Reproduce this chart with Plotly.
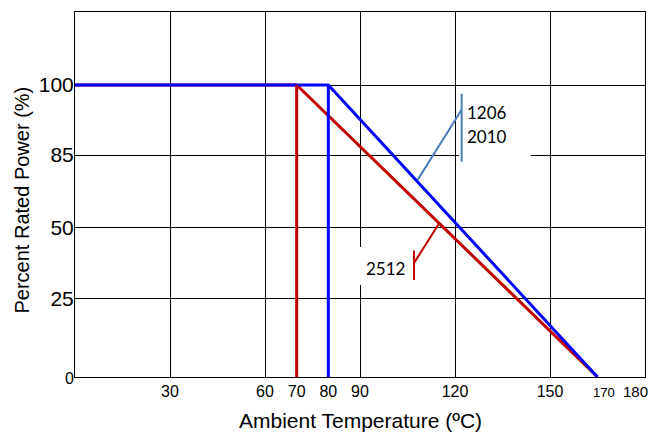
import plotly.graph_objects as go

# ---------------- data ----------------
x_tick_labels = ["30", "60", "70", "80", "90", "120", "150", "170", "180"]
y_tick_labels = ["0", "25", "50", "85", "100"]

red_curve_x = [0, 70, 165]
red_curve_y = [100, 100, 0]
red_drop_x = [70, 70]
red_drop_y = [0, 100]

blue_curve_x = [0, 80, 165]
blue_curve_y = [100, 100, 0]
blue_drop_x = [80, 80]
blue_drop_y = [0, 100]

blue_series_labels = ["1206", "2010"]
red_series_labels = ["2512"]

x_title = "Ambient Temperature (ºC)"
y_title = "Percent Rated Power (%)"

# ---------------- layout helpers ----------------
# the y axis is drawn with equally spaced (non-linear) levels
y_level_pos = [0, 1.07, 2.05, 3.04, 4.0]
y_map = {int(v): p for v, p in zip(y_tick_labels, y_level_pos)}
x_tick_pos = [30, 60, 70, 80, 90, 120, 150, 167, 177]
x_tick_size = [16, 16, 16, 16, 16, 16, 16, 13, 15]
x_tick_text = [f"<span style='font-size:{s}px'>{t}</span>" for t, s in zip(x_tick_labels, x_tick_size)]
y_tick_text = ["<span style='font-size:16px'>0</span>"] + y_tick_labels[1:]

RED = "#C00000"
BLUE = "#0000FF"
LEAD_BLUE = "#4A7EBB"

def ly(vals):
    return [y_map[v] for v in vals]

fig = go.Figure()
fig.add_trace(go.Scatter(x=red_drop_x, y=ly(red_drop_y), mode="lines", xaxis="x2",
                         line=dict(color=RED, width=3), hoverinfo="skip", showlegend=False))
fig.add_trace(go.Scatter(x=red_curve_x, y=ly(red_curve_y), mode="lines",
                         line=dict(color=RED, width=3), hoverinfo="skip", showlegend=False))
fig.add_trace(go.Scatter(x=blue_drop_x, y=ly(blue_drop_y), mode="lines",
                         line=dict(color=BLUE, width=3), hoverinfo="skip", showlegend=False))
fig.add_trace(go.Scatter(x=blue_curve_x, y=ly(blue_curve_y), mode="lines",
                         line=dict(color=BLUE, width=3), hoverinfo="skip", showlegend=False))

shapes = [
    # white label backgrounds (cover grid lines)
    dict(type="rect", xref="x", yref="y", x0=121.3, x1=144.0, y0=2.90, y1=3.93,
         fillcolor="white", line=dict(width=0), layer="above"),
    dict(type="rect", xref="x", yref="y", x0=87.5, x1=105.8, y0=1.26, y1=1.78,
         fillcolor="white", line=dict(width=0), layer="above"),
    # blue callout
    dict(type="line", xref="x", yref="y", x0=122.1, x1=122.1, y0=2.95, y1=3.88,
         line=dict(color=LEAD_BLUE, width=2), layer="above"),
    dict(type="line", xref="x", yref="y", x0=108.2, x1=122.1, y0=2.70, y1=3.66,
         line=dict(color=LEAD_BLUE, width=2), layer="above"),
    # red callout
    dict(type="line", xref="x", yref="y", x0=107.05, x1=107.05, y0=1.33, y1=1.73,
         line=dict(color=RED, width=2), layer="above"),
    dict(type="line", xref="x", yref="y", x0=107.05, x1=114.9, y0=1.56, y1=2.10,
         line=dict(color=RED, width=2), layer="above"),
]

ann_font = dict(family="Lato, Carlito, sans-serif", size=17, color="black")
axis_font = dict(family="Liberation Sans, Arial, sans-serif", color="black")
annotations = [
    dict(x=123.3, y=3.63, xref="x", yref="y", text=blue_series_labels[0], showarrow=False,
         xanchor="left", yanchor="middle", font=ann_font),
    dict(x=123.3, y=3.29, xref="x", yref="y", text=blue_series_labels[1], showarrow=False,
         xanchor="left", yanchor="middle", font=ann_font),
    dict(x=91.3, y=1.49, xref="x", yref="y", text=red_series_labels[0], showarrow=False,
         xanchor="left", yanchor="middle", font=ann_font),
    # axis titles
    dict(x=0.5, y=0, xref="paper", yref="paper", text=x_title, showarrow=False,
         xanchor="center", yanchor="middle", yshift=-43, font=dict(size=21, **axis_font)),
    dict(x=0, y=0.5, xref="paper", yref="paper", text=y_title, showarrow=False, textangle=-90,
         xanchor="center", yanchor="middle", xshift=-54, yshift=-6, font=dict(size=20, **axis_font)),
]

fig.update_layout(
    width=651, height=433,
    margin=dict(l=75, r=6, t=12, b=56, autoexpand=False),
    paper_bgcolor="white", plot_bgcolor="white",
    showlegend=False,
    shapes=shapes, annotations=annotations,
    xaxis=dict(range=[0, 180], tickvals=[30, 60, 90, 120, 150], showticklabels=False,
               showgrid=True, gridcolor="black", gridwidth=1, zeroline=False, automargin=False,
               showline=True, linecolor="black", linewidth=1, mirror=True, ticks=""),
    xaxis2=dict(range=[0, 180], overlaying="x", matches="x", anchor="y", side="bottom",
                tickvals=x_tick_pos, ticktext=x_tick_text, showgrid=False, zeroline=False,
                showline=False, ticks="", automargin=False, ticklabelstandoff=3,
                tickfont=dict(size=16, **axis_font)),
    yaxis=dict(range=[0, 5], tickvals=y_level_pos, ticktext=y_tick_text,
               showgrid=True, gridcolor="black", gridwidth=1, zeroline=False, automargin=False,
               showline=True, linecolor="black", linewidth=1, mirror=True, ticks="",
               ticklabelstandoff=-4, tickfont=dict(size=21, **axis_font)),
)

fig.write_html("out.html", config={"displayModeBar": False},
               post_script="document.body.style.margin='0';document.body.style.padding='0';")
